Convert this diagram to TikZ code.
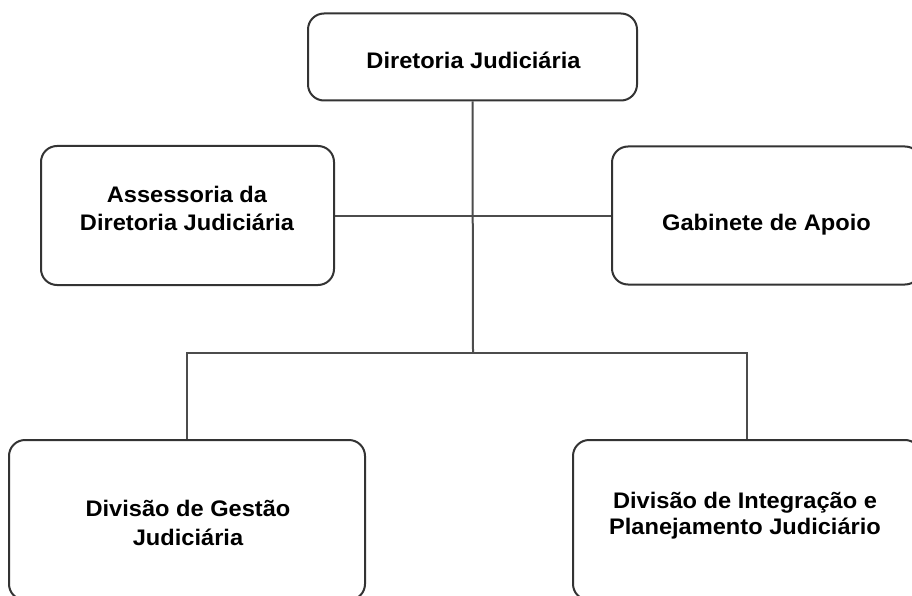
\documentclass[tikz,border=0pt]{standalone}
\usepackage{fontspec}
\setmainfont[FakeStretch=1.05]{Liberation Sans}
\begin{document}
\begin{tikzpicture}[x=1pt,y=-1pt,
  orgbox/.style={draw=black!80, line width=2pt, rounded corners=16pt, inner sep=0pt},
  lbl/.style={anchor=base, inner sep=0pt, font=\fontsize{22.5}{27}\selectfont\bfseries},
  link/.style={draw=black!70, line width=2pt}]
\useasboundingbox (0,0) rectangle (912,596);
\node[orgbox, minimum width=329pt, minimum height=87pt] (top) at (472.5,57) {};
\node[orgbox, minimum width=293pt, minimum height=139pt] (left) at (187.5,215.5) {};
\node[orgbox, minimum width=309pt, minimum height=138pt] (right) at (766.5,215.5) {};
\node[orgbox, minimum width=356pt, minimum height=160pt] (bl) at (187,520) {};
\node[orgbox, minimum width=348pt, minimum height=160pt] (br) at (747,520) {};
\node[lbl] (t1) at (473.5,68.5) {Diretoria Judiciária};
\node[lbl] (l1) at (187,202.5) {Assessoria da};
\node[lbl] (l2) at (187,230) {Diretoria Judiciária};
\node[lbl] (r1) at (766.5,230) {Gabinete de Apoio};
\node[lbl] (b1) at (188,516.7) {Divisão de Gestão};
\node[lbl] (b2) at (188,545) {Judiciária};
\node[lbl] (c1) at (745,508.5) {Divisão de Integração e};
\node[lbl] (c2) at (745,534) {Planejamento Judiciário};
\coordinate (hub) at (473,353);
\draw[link] (top.south) -- (hub);
\draw[link] (left.east) -- (right.west);
\draw[link] (bl.north) |- (hub) -| (br.north);
\end{tikzpicture}
\end{document}
